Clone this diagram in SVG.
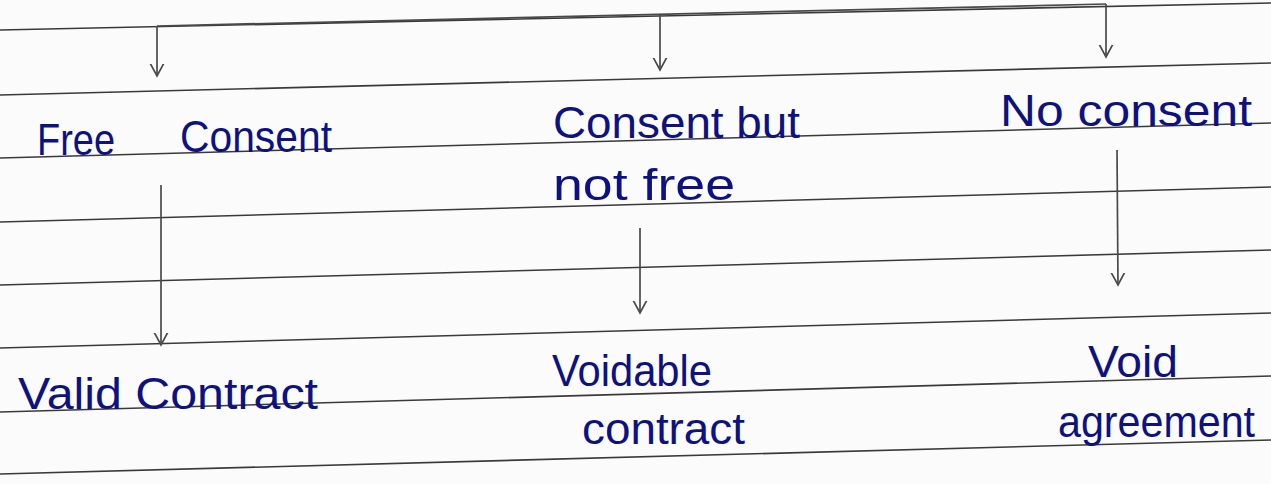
<svg xmlns="http://www.w3.org/2000/svg" width="1271" height="484" viewBox="0 0 1271 484">
<defs>
<style>
.rule{stroke:#3a3a3a;stroke-width:1.6;fill:none}
.pen{stroke:#4a4a4a;stroke-width:1.7;fill:none}
.lbl{font-family:"Liberation Sans","DejaVu Sans",sans-serif;font-size:45px;fill:#0d1280}
</style>
<marker id="vhead" markerUnits="userSpaceOnUse" markerWidth="24" markerHeight="24" viewBox="-12 -12 24 24" refX="0" refY="0" orient="auto">
<path d="M-13,-7 L0,0 L-13,7" fill="none" stroke="#4a4a4a" stroke-width="1.7"/>
</marker>
</defs>
<rect width="1271" height="484" fill="#fcfbfb"/>
<g id="ruled-lines">
<line class="rule" x1="0" y1="30" x2="1271" y2="3"/>
<line class="rule" x1="0" y1="95" x2="1271" y2="63"/>
<line class="rule" x1="0" y1="158" x2="1271" y2="123"/>
<line class="rule" x1="0" y1="222" x2="1271" y2="187"/>
<line class="rule" x1="0" y1="285" x2="1271" y2="250"/>
<line class="rule" x1="0" y1="348" x2="1271" y2="313"/>
<line class="rule" x1="0" y1="412" x2="1271" y2="376"/>
<line class="rule" x1="0" y1="474" x2="1271" y2="440"/>
</g>
<g id="connectors">
<path class="pen" d="M157,26 L1106,4"/>
<path class="pen" d="M157,26 L157,76" marker-end="url(#vhead)"/>
<path class="pen" d="M660,14 L660,70" marker-end="url(#vhead)"/>
<path class="pen" d="M1106,4 L1106,57" marker-end="url(#vhead)"/>
<path class="pen" d="M161,185 L161,345" marker-end="url(#vhead)"/>
<path class="pen" d="M640,228 L640,313" marker-end="url(#vhead)"/>
<path class="pen" d="M1117,150 L1118,285" marker-end="url(#vhead)"/>
</g>
<g id="free-consent">
<text class="lbl" x="37" y="155" textLength="78" lengthAdjust="spacingAndGlyphs">Free</text>
<text class="lbl" x="180" y="152" textLength="152" lengthAdjust="spacingAndGlyphs">Consent</text>
</g>
<g id="consent-not-free">
<text class="lbl" x="553" y="138" textLength="247" lengthAdjust="spacingAndGlyphs">Consent but</text>
<text class="lbl" x="553" y="200" textLength="182" lengthAdjust="spacingAndGlyphs">not free</text>
</g>
<g id="no-consent">
<text class="lbl" x="1000" y="126" textLength="252" lengthAdjust="spacingAndGlyphs">No consent</text>
</g>
<g id="valid-contract">
<text class="lbl" x="18" y="409" textLength="300" lengthAdjust="spacingAndGlyphs">Valid Contract</text>
</g>
<g id="voidable-contract">
<text class="lbl" x="552" y="386" textLength="160" lengthAdjust="spacingAndGlyphs">Voidable</text>
<text class="lbl" x="582" y="444" textLength="163" lengthAdjust="spacingAndGlyphs">contract</text>
</g>
<g id="void-agreement">
<text class="lbl" x="1088" y="377" textLength="90" lengthAdjust="spacingAndGlyphs">Void</text>
<text class="lbl" x="1058" y="437" textLength="197" lengthAdjust="spacingAndGlyphs">agreement</text>
</g>
</svg>
